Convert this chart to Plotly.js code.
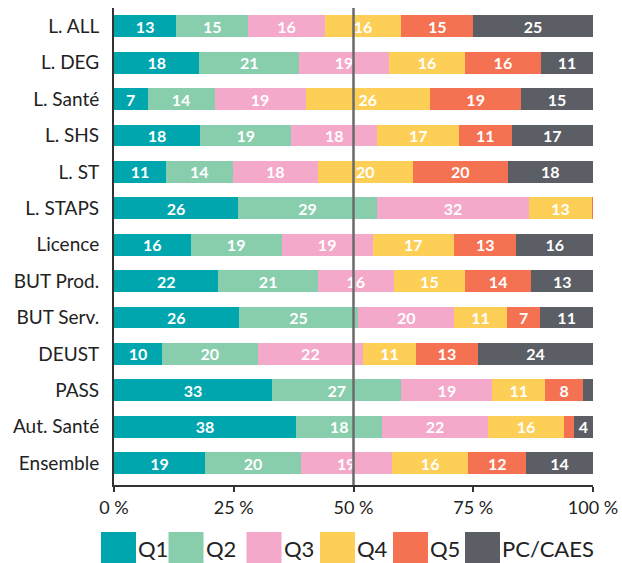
<!DOCTYPE html>
<html>
<head>
<meta charset="utf-8">
<script src="https://cdn.plot.ly/plotly-3.0.1.min.js"></script>
<style>html,body{margin:0;padding:0;background:#fff;}#chart{width:622px;height:563px;}</style>
</head>
<body>
<div id="chart"></div>
<script>
// ---- data ----
var categories = ["L. ALL","L. DEG","L. Santé","L. SHS","L. ST","L. STAPS","Licence","BUT Prod.","BUT Serv.","DEUST","PASS","Aut. Santé","Ensemble"];
var seriesNames = ["Q1","Q2","Q3","Q4","Q5","PC/CAES"];
var q1 = [13,18,7,18,11,26,16,22,26,10,33,38,19];
var q2 = [15,21,14,19,14,29,19,21,25,20,27,18,20];
var q3 = [16,19,19,18,18,32,19,16,20,22,19,22,19];
var q4 = [16,16,26,17,20,13,17,15,11,11,11,16,16];
var q5 = [15,16,19,11,20,0.3,13,14,7,13,8,2,12];
var pc = [25,11,15,17,18,0,16,13,11,24,2,4,14];
var xTickVals = [0,25,50,75,100];

// ---- styles ----
var colors = ["#00a6ae","#88cdac","#f4a9cb","#fecf57","#f47152","#5b5e65"];
var FONT = "Lato, 'Open Sans', sans-serif";
var series = [q1,q2,q3,q4,q5,pc];

var traces = series.map(function(vals, i){
  return {
    type: "bar",
    orientation: "h",
    name: seriesNames[i],
    y: categories,
    x: vals,
    text: vals.map(function(v){ return v >= 3 ? String(v) : ""; }),
    textposition: "inside",
    insidetextanchor: "middle",
    textangle: 0,
    insidetextfont: {family: FONT, size: 16, color: "#ffffff", weight: 700},
    marker: {color: colors[i], line: {width: 0}},
    showlegend: false,
    hoverinfo: "x+y+name"
  };
});

var L = 114, R = 29, T = 8, B = 78, W = 622, H = 563;
var pw = W - L - R, ph = H - T - B;
function px2x(px){ return (px - L) / pw; }
function py2y(py){ return (H - B - py) / ph; }

// custom legend (large swatches)
var legendX = [101, 168.5, 246.5, 320, 393, 465];
var swW = 35, swTop = 532, swBot = 563;
var shapes = [{
  type: "line", xref: "x", yref: "paper", x0: 50, x1: 50, y0: 0, y1: 1,
  line: {color: "#6a6a6a", width: 2.5}, layer: "above"
}];
var annotations = [];
seriesNames.forEach(function(n, i){
  shapes.push({
    type: "rect", xref: "paper", yref: "paper",
    x0: px2x(legendX[i]), x1: px2x(legendX[i] + swW),
    y0: py2y(swBot), y1: py2y(swTop),
    fillcolor: colors[i], line: {width: 0}, layer: "above"
  });
  annotations.push({
    xref: "paper", yref: "paper",
    x: px2x(legendX[i] + swW), y: py2y(548),
    xanchor: "left", yanchor: "middle",
    text: n, showarrow: false,
    font: {family: FONT, size: 22, color: "#222222"}
  });
});

var layout = {
  width: W, height: H,
  margin: {l: L, r: R, t: T, b: B, pad: 0},
  paper_bgcolor: "#ffffff",
  plot_bgcolor: "#ffffff",
  barmode: "stack",
  barnorm: "percent",
  bargap: 0.4,
  showlegend: false,
  uniformtext: {mode: "show", minsize: 16},
  font: {family: FONT, color: "#222222"},
  xaxis: {
    range: [0, 100],
    tickvals: xTickVals,
    ticktext: xTickVals.map(function(v){ return v + " %"; }),
    ticks: "outside", ticklen: 5, tickwidth: 2, tickcolor: "#333333",
    showgrid: false, zeroline: false,
    showline: true, linecolor: "#333333", linewidth: 2,
    tickfont: {family: FONT, size: 18, color: "#222222"},
    fixedrange: true
  },
  yaxis: {
    type: "category",
    categoryorder: "array",
    categoryarray: categories,
    range: [12.6, -0.5],
    ticks: "", showgrid: false, zeroline: false,
    showline: true, linecolor: "#333333", linewidth: 2,
    ticklabelstandoff: 9,
    tickfont: {family: FONT, size: 19, color: "#222222"},
    fixedrange: true
  },
  shapes: shapes,
  annotations: annotations
};

Plotly.newPlot("chart", traces, layout, {displayModeBar: false, staticPlot: true});
</script>
</body>
</html>
